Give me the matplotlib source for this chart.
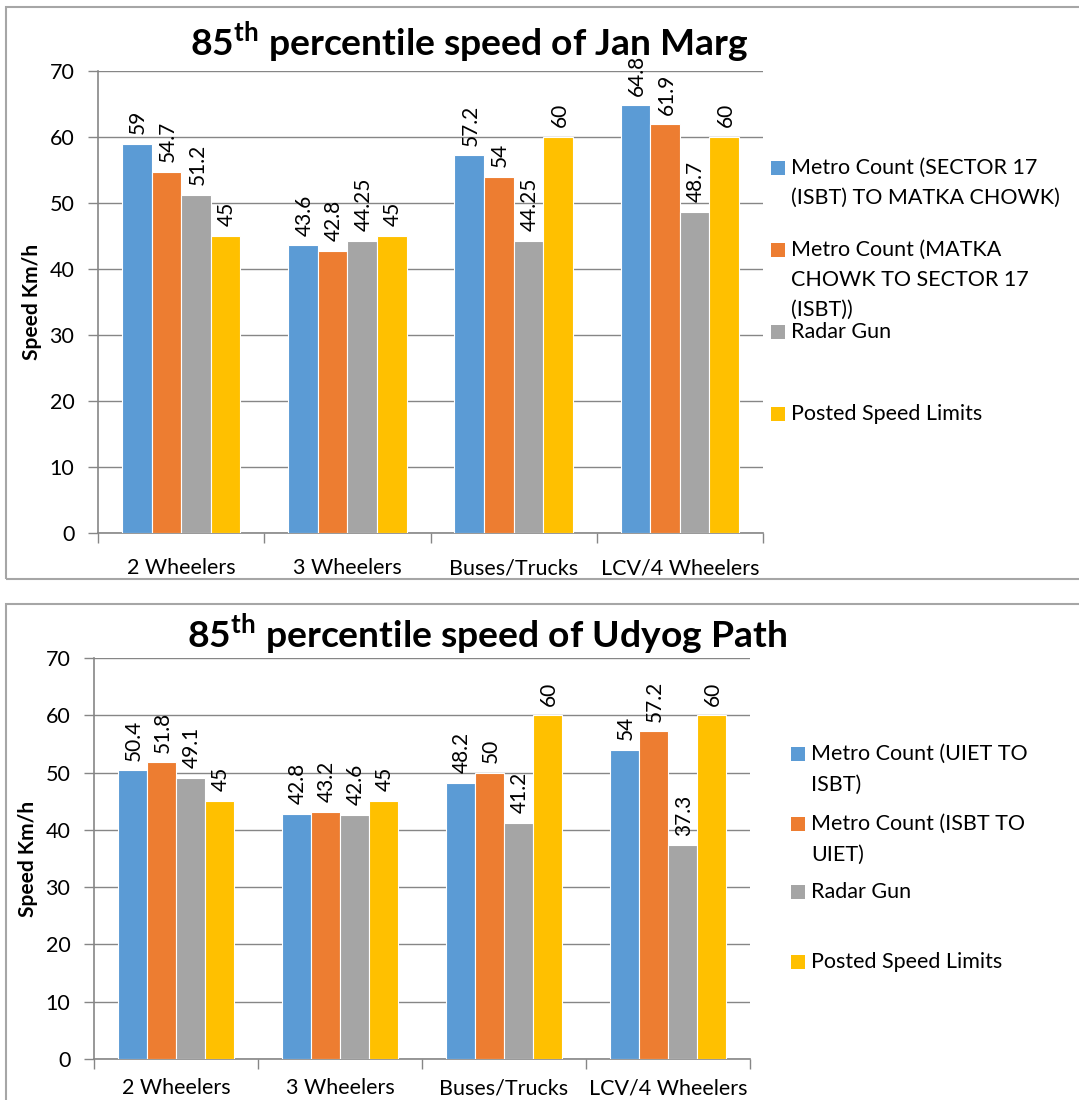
import matplotlib
matplotlib.use("Agg")
import matplotlib.pyplot as plt
from matplotlib.patches import Rectangle
import numpy as np

plt.rcParams['font.family'] = ['Lato', 'DejaVu Sans']
plt.rcParams['mathtext.fontset'] = 'custom'
plt.rcParams['mathtext.rm'] = 'Lato'
plt.rcParams['mathtext.bf'] = 'Lato:bold'

# ---------------- data ----------------
categories = ["2 Wheelers", "3 Wheelers", "Buses/Trucks", "LCV/4 Wheelers"]

jan_title = "Jan Marg"
jan_series = ["Metro Count (SECTOR 17\n(ISBT) TO MATKA CHOWK)",
              "Metro Count (MATKA\nCHOWK TO SECTOR 17\n(ISBT))",
              "Radar Gun",
              "Posted Speed Limits"]
jan_metro_a = [59, 43.6, 57.2, 64.8]
jan_metro_b = [54.7, 42.8, 54, 61.9]
jan_radar = [51.2, 44.25, 44.25, 48.7]
jan_posted = [45, 45, 60, 60]

udy_title = "Udyog Path"
udy_series = ["Metro Count (UIET TO\nISBT)",
              "Metro Count (ISBT TO\nUIET)",
              "Radar Gun",
              "Posted Speed Limits"]
udy_metro_a = [50.4, 42.8, 48.2, 54]
udy_metro_b = [51.8, 43.2, 50, 57.2]
udy_radar = [49.1, 42.6, 41.2, 37.3]
udy_posted = [45, 45, 60, 60]

colors = ["#5B9BD5", "#ED7D31", "#A5A5A5", "#FFC000"]
yticks = [0, 10, 20, 30, 40, 50, 60, 70]

W, H = 1079, 1100
fig = plt.figure(figsize=(W / 100, H / 100), dpi=100)


def fx(px):
    return px / W


def fy(py):
    return 1 - py / H


GRID = "#868686"


def draw_chart(ax_px, title, title_xy, series_names, values, legend_sq_x,
               legend_ys, line_h, ylabel_x, box, xpad):
    l, t, r, b = ax_px
    ax = fig.add_axes([fx(l), fy(b), fx(r) - fx(l), fy(t) - fy(b)])
    n = len(values)
    w = 0.178
    x = np.arange(len(categories))
    for i, (vals, col) in enumerate(zip(values, colors)):
        pos = x + (i - (n - 1) / 2) * w
        bars = ax.bar(pos, vals, w, color=col, edgecolor="white", linewidth=0.8,
                      zorder=3)
        for bar, v in zip(bars, vals):
            ax.annotate(f"{v:g}", (bar.get_x() + bar.get_width() / 2, v),
                        xytext=(1, 7), textcoords="offset points",
                        rotation=90, ha="center", va="bottom", fontsize=15,
                        color="#000000", zorder=5, annotation_clip=False)
    ax.set_xlim(-0.5, len(categories) - 0.5)
    ax.set_ylim(0, 70)
    ax.set_yticks(yticks)
    ax.set_yticklabels([str(v) for v in yticks], fontsize=15.5)
    ax.set_xticks(np.arange(len(categories) + 1) - 0.5)
    ax.set_xticklabels([])
    ax.set_xticks(x, minor=True)
    ax.set_xticklabels(categories, minor=True, fontsize=15.5)
    ax.tick_params(axis="x", which="minor", length=0, pad=xpad)
    ax.tick_params(axis="x", which="major", length=7, color=GRID, width=1)
    ax.tick_params(axis="y", length=7, color=GRID, width=1, pad=10)
    ax.yaxis.grid(True, color=GRID, linewidth=1, zorder=0)
    ax.set_axisbelow(True)
    for s in ["top", "right"]:
        ax.spines[s].set_visible(False)
    for s in ["left", "bottom"]:
        ax.spines[s].set_color(GRID)
        ax.spines[s].set_linewidth(1.2)
    fig.text(fx(ylabel_x), fy((t + b) / 2), "Speed Km/h", rotation=90,
             ha="center", va="center", fontsize=15, fontweight="bold")
    fig.text(fx(title_xy[0]), fy(title_xy[1]),
             r"85$^{\mathbf{th}}$ percentile speed of " + title,
             ha="center", va="center", fontsize=26.8, fontweight="bold")
    # legend
    for name, col, ly in zip(series_names, colors, legend_ys):
        fig.patches.append(Rectangle((fx(legend_sq_x), fy(ly + 7)), 14 / W, 14 / H,
                                     transform=fig.transFigure,
                                     facecolor=col, edgecolor="none"))
        for k, line in enumerate(name.split("\n")):
            fig.text(fx(legend_sq_x + 20), fy(ly + k * line_h), line,
                     ha="left", va="center", fontsize=15.5)
    bl, bt, br, bb = box
    fig.patches.append(Rectangle((fx(bl), fy(bb)), fx(br) - fx(bl), fy(bt) - fy(bb),
                                 transform=fig.transFigure, facecolor="none",
                                 edgecolor="#A6A6A6", linewidth=1.5))
    return ax


draw_chart((98, 71, 763, 533), jan_title, (469, 42), jan_series,
           [jan_metro_a, jan_metro_b, jan_radar, jan_posted],
           771, [168, 250, 332, 414], 30, 32, (6, 7, 1090, 579), 18)

draw_chart((94, 658, 750, 1059), udy_title, (487, 634), udy_series,
           [udy_metro_a, udy_metro_b, udy_radar, udy_posted],
           791, [754, 824, 892, 962], 31, 28, (6, 604, 1090, 1110), 14)

fig.savefig("out.png", dpi=100)
